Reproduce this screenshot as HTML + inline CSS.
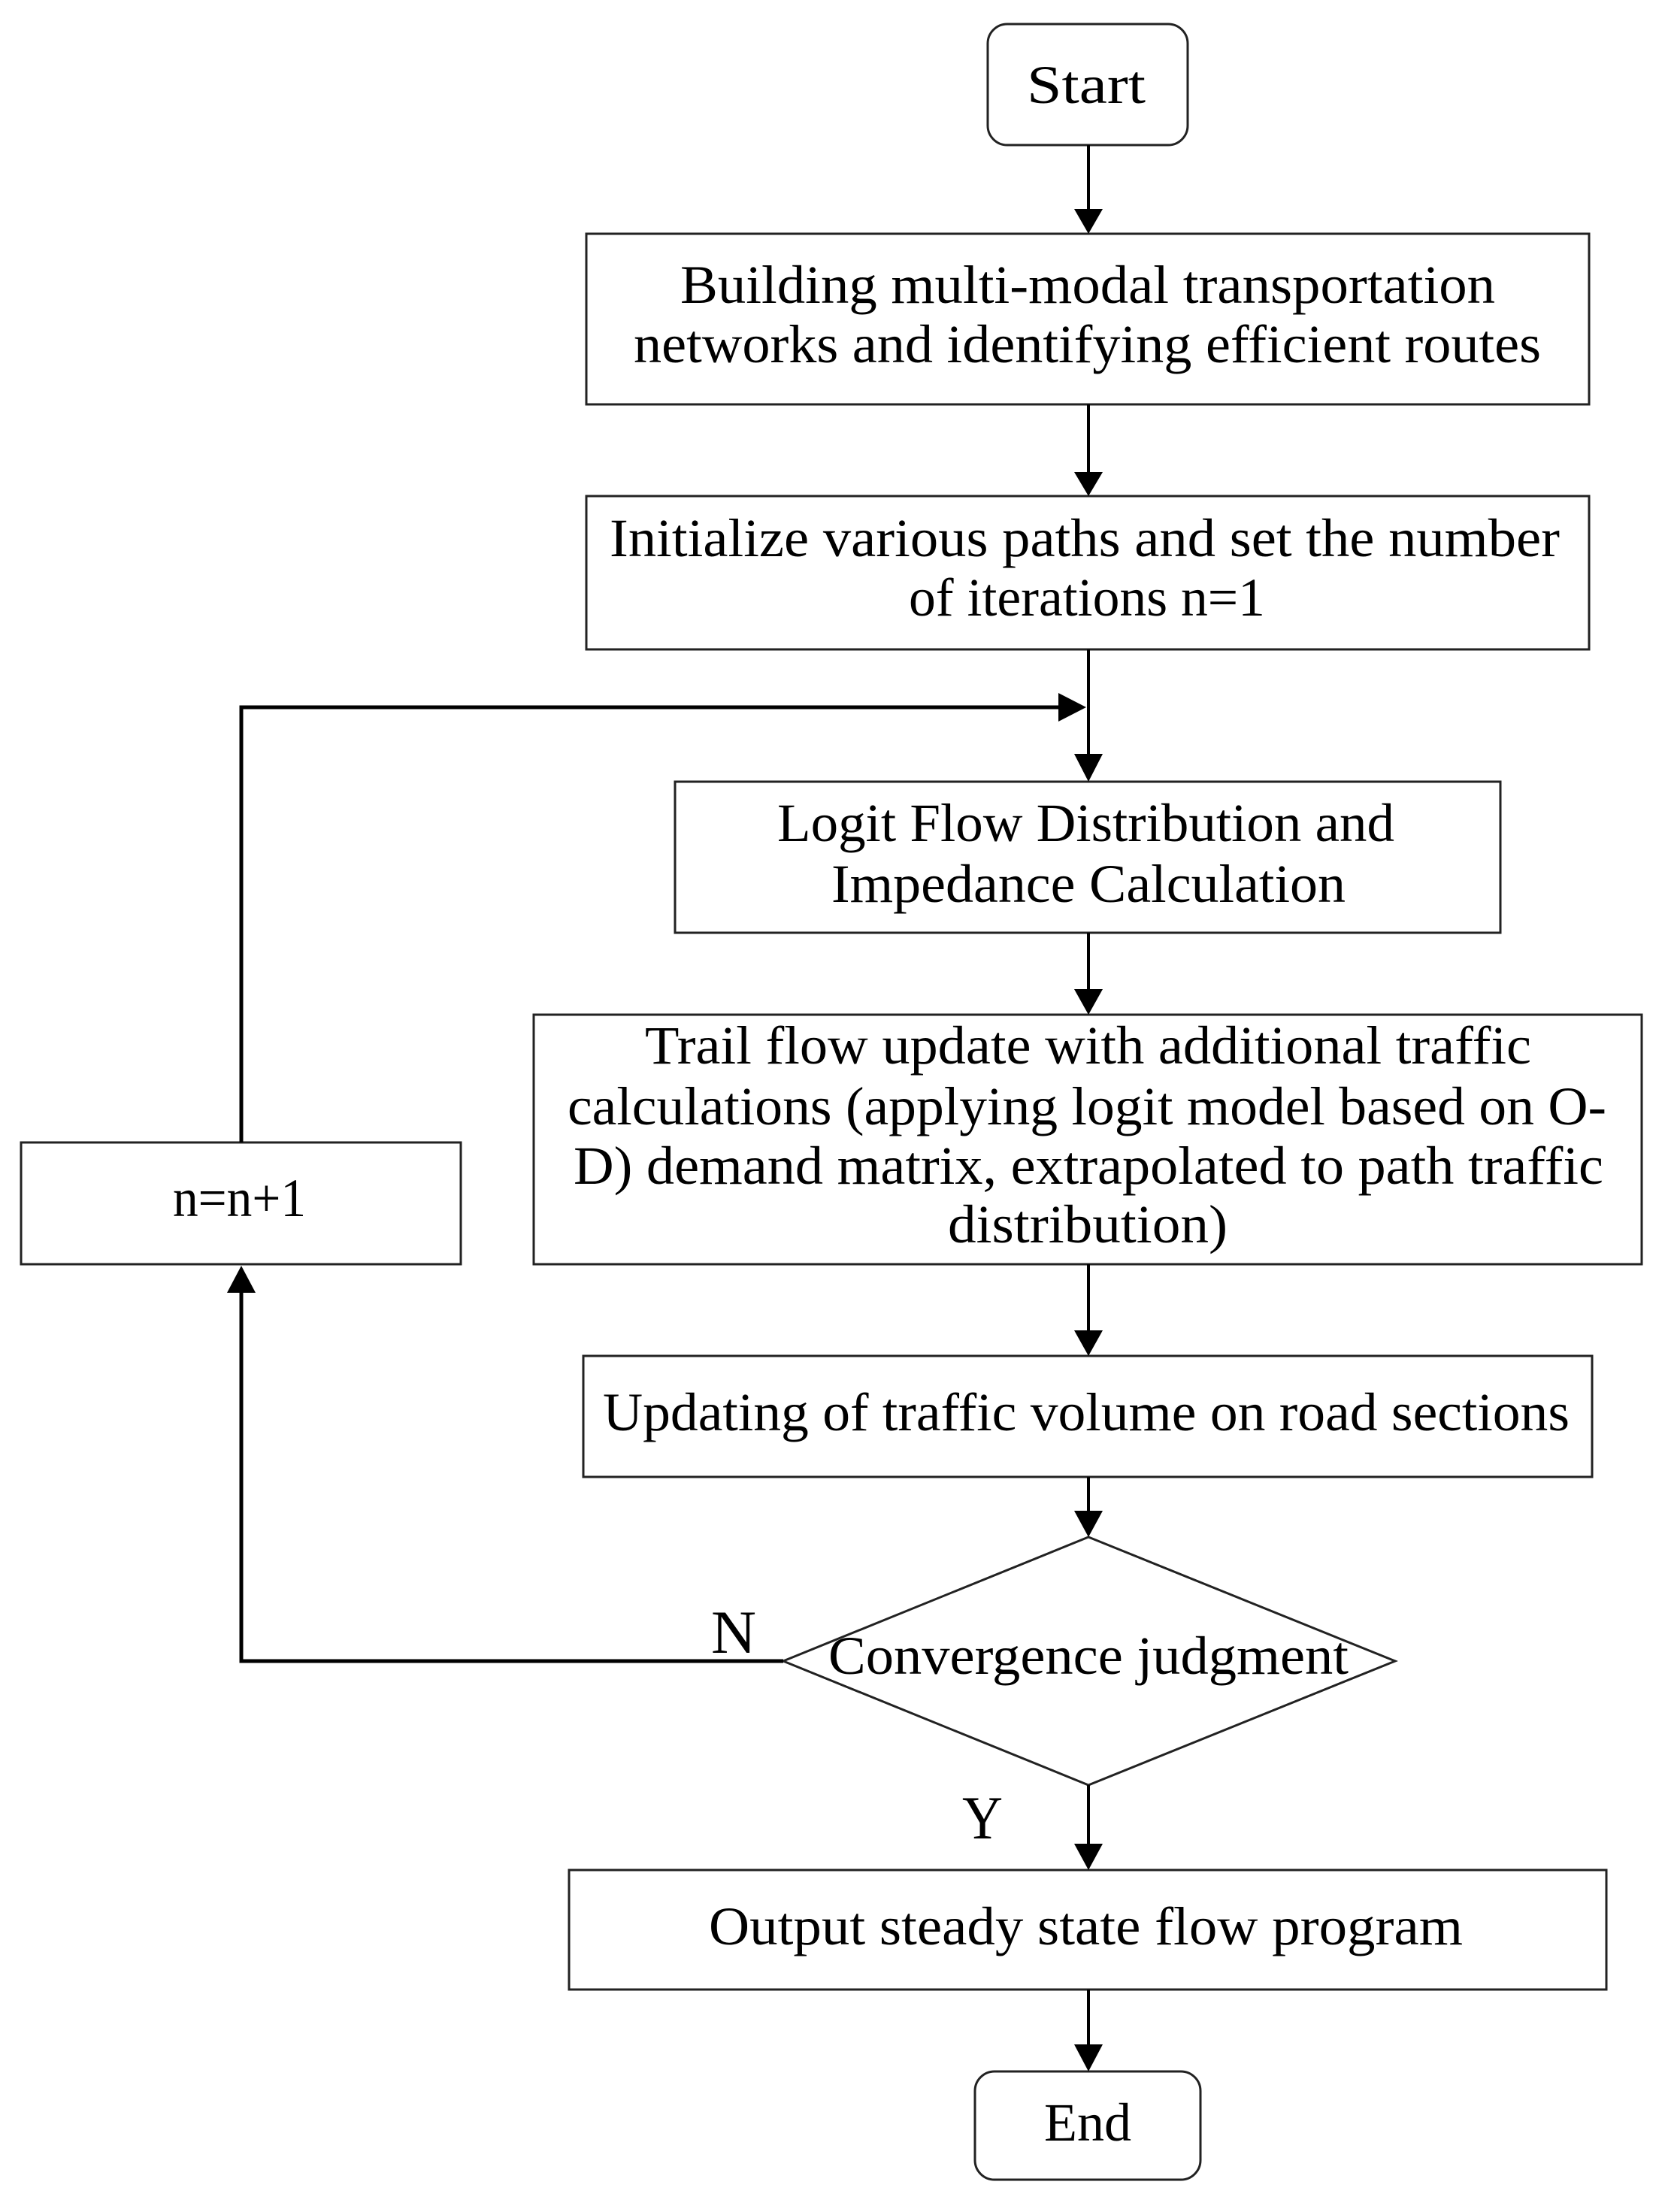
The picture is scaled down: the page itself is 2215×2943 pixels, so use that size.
<!DOCTYPE html>
<html><head><meta charset="utf-8"><style>
html,body{margin:0;padding:0;background:#fff}
svg{display:block}
text{font-family:"Liberation Serif",serif;font-size:72px;fill:#000}
</style></head><body>
<svg width="2215" height="2943" viewBox="0 0 2215 2943" xmlns="http://www.w3.org/2000/svg">
<g fill="none" stroke="#222" stroke-width="3">
<rect x="1314" y="32" width="266" height="161" rx="26"/>
<rect x="780" y="311" width="1334" height="227"/>
<rect x="780" y="660" width="1334" height="204"/>
<rect x="898" y="1040" width="1098" height="201"/>
<rect x="710" y="1350" width="1474" height="332"/>
<rect x="28" y="1520" width="585" height="162"/>
<rect x="776" y="1804" width="1342" height="161"/>
<polygon points="1448,2045 1856,2210 1448,2375 1042,2210"/>
<rect x="757" y="2488" width="1380" height="159"/>
<rect x="1297" y="2756" width="300" height="144" rx="26"/>
</g>
<g stroke="#000" stroke-width="4" fill="none">
<line x1="1448" y1="193" x2="1448" y2="280"/>
<line x1="1448" y1="538" x2="1448" y2="630"/>
<line x1="1448" y1="864" x2="1448" y2="1005"/>
<line x1="1448" y1="1241" x2="1448" y2="1318"/>
<line x1="1448" y1="1682" x2="1448" y2="1772"/>
<line x1="1448" y1="1965" x2="1448" y2="2012"/>
<line x1="1448" y1="2375" x2="1448" y2="2455"/>
<line x1="1448" y1="2647" x2="1448" y2="2722"/>
<polyline points="1042,2210 321,2210 321,1718" stroke-width="5"/>
<polyline points="321,1520 321,941 1410,941" stroke-width="5"/>
</g>
<g fill="#000">
<polygon points="1429,278 1467,278 1448,311"/>
<polygon points="1429,628 1467,628 1448,660"/>
<polygon points="1429,1003 1467,1003 1448,1040"/>
<polygon points="1429,1316 1467,1316 1448,1350"/>
<polygon points="1429,1770 1467,1770 1448,1804"/>
<polygon points="1429,2010 1467,2010 1448,2045"/>
<polygon points="1429,2453 1467,2453 1448,2488"/>
<polygon points="1429,2720 1467,2720 1448,2756"/>
<polygon points="1408,922 1408,960 1445,941"/>
<polygon points="302,1720 340,1720 321,1684"/>
</g>
<g>
<text x="1366" y="137" textLength="158" lengthAdjust="spacingAndGlyphs">Start</text>
<text x="905" y="403" textLength="1084" lengthAdjust="spacingAndGlyphs">Building multi-modal transportation</text>
<text x="843" y="482" textLength="1207" lengthAdjust="spacingAndGlyphs">networks and identifying efficient routes</text>
<text x="811" y="740" textLength="1264" lengthAdjust="spacingAndGlyphs">Initialize various paths and set the number</text>
<text x="1209" y="819" textLength="474" lengthAdjust="spacingAndGlyphs">of iterations n=1</text>
<text x="1034" y="1119" textLength="821" lengthAdjust="spacingAndGlyphs">Logit Flow Distribution and</text>
<text x="1106" y="1200" textLength="684" lengthAdjust="spacingAndGlyphs">Impedance Calculation</text>
<text x="858" y="1415" textLength="1179" lengthAdjust="spacingAndGlyphs">Trail flow update with additional traffic</text>
<text x="755" y="1496" textLength="1382" lengthAdjust="spacingAndGlyphs">calculations (applying logit model based on O-</text>
<text x="763" y="1575" textLength="1370" lengthAdjust="spacingAndGlyphs">D) demand matrix, extrapolated to path traffic</text>
<text x="1261" y="1653" textLength="372" lengthAdjust="spacingAndGlyphs">distribution)</text>
<text x="230" y="1618" textLength="177" lengthAdjust="spacingAndGlyphs">n=n+1</text>
<text x="802" y="1903" textLength="1286" lengthAdjust="spacingAndGlyphs">Updating of traffic volume on road sections</text>
<text x="1102" y="2227" textLength="692" lengthAdjust="spacingAndGlyphs">Convergence judgment</text>
<text x="943" y="2587" textLength="1003" lengthAdjust="spacingAndGlyphs">Output steady state flow program</text>
<text x="1389" y="2848" textLength="116" lengthAdjust="spacingAndGlyphs">End</text>
<text x="946" y="2199" textLength="60" lengthAdjust="spacingAndGlyphs" style="font-size:82px">N</text>
<text x="1280" y="2446" textLength="54" lengthAdjust="spacingAndGlyphs" style="font-size:82px">Y</text>
</g>
</svg>
</body></html>
